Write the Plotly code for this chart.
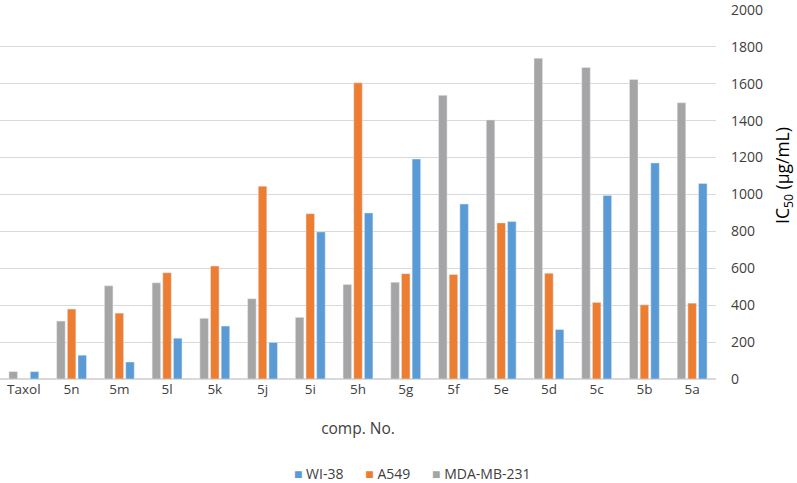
import plotly.graph_objects as go

categories = ["Taxol", "5n", "5m", "5l", "5k", "5j", "5i", "5h", "5g", "5f", "5e", "5d", "5c", "5b", "5a"]
mda_mb_231 = [40, 314, 505, 521, 329, 435, 334, 512, 524, 1537, 1404, 1738, 1688, 1623, 1497]
a549 = [None, 379, 357, 576, 612, 1045, 896, 1605, 571, 566, 846, 573, 415, 402, 411]
wi_38 = [40, 129, 92, 221, 287, 198, 797, 900, 1192, 948, 853, 268, 995, 1171, 1059]
y_ticks = [0, 200, 400, 600, 800, 1000, 1200, 1400, 1600, 1800, 2000]

series_names = ["WI-38", "A549", "MDA-MB-231"]
series_colors = ["#5B9BD5", "#ED7D31", "#A5A5A5"]

font_family = "Open Sans, Noto Sans, sans-serif"

fig = go.Figure()
fig.add_trace(go.Bar(name="MDA-MB-231", x=categories, y=mda_mb_231, marker_color="#A5A5A5"))
fig.add_trace(go.Bar(name="A549", x=categories, y=a549, marker_color="#ED7D31"))
fig.add_trace(go.Bar(name="WI-38", x=categories, y=wi_38, marker_color="#5B9BD5"))

legend_text = "&nbsp;&nbsp;&nbsp;&nbsp;&nbsp;&nbsp;".join(
    f"<span style='color:{c}'>■</span> {n}" for n, c in zip(series_names, series_colors)
)

fig.update_layout(
    width=797, height=483,
    margin=dict(l=0, r=81, t=9, b=104, autoexpand=False),
    paper_bgcolor="white", plot_bgcolor="white",
    barmode="group", bargap=0.33, bargroupgap=0.2,
    font=dict(family=font_family, size=13, color="#404040"),
    showlegend=False,
    annotations=[
        dict(text=legend_text, xref="paper", yref="paper", x=412 / 716, y=(379 - 473) / 370,
             xanchor="center", yanchor="middle", showarrow=False,
             font=dict(size=14, color="#404040")),
        dict(text="IC<sub>50</sub> (µg/mL)", xref="paper", yref="paper", x=783 / 716,
             y=(379 - 176) / 370, xanchor="center", yanchor="middle", showarrow=False,
             textangle=-90, font=dict(size=17.5, color="#000000")),
    ],
    xaxis=dict(showgrid=False, showline=False, ticks="", automargin=False,
               tickfont=dict(size=13.5, color="#404040"),
               title=dict(text="comp. No.", font=dict(size=15.5, color="#404040"), standoff=26)),
    yaxis=dict(side="right", range=[0, 2005], tickvals=y_ticks, showgrid=True,
               gridcolor="#D9D9D9", gridwidth=1, zeroline=True, zerolinecolor="#D9D9D9",
               showline=False, ticks="", ticklabelstandoff=14, automargin=False,
               ticklabeloverflow="allow",
               tickfont=dict(size=14, color="#404040")),
)

fig.write_html("out.html", config={"displayModeBar": False},
               post_script="document.body.style.margin='0';")
